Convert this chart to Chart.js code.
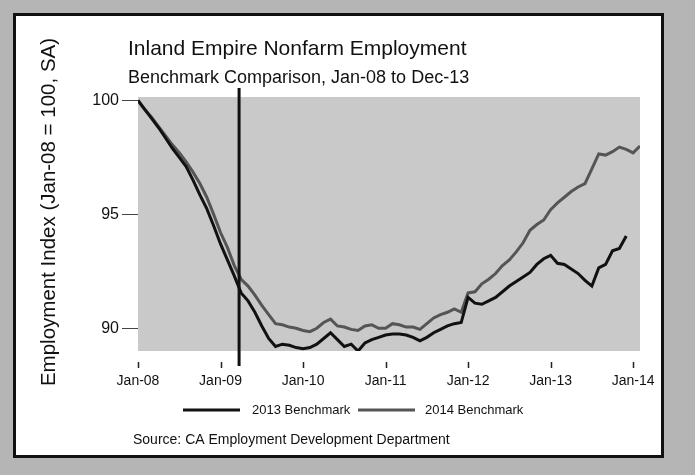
<!DOCTYPE html>
<html><head><meta charset="utf-8">
<script src="https://cdn.jsdelivr.net/npm/chart.js@4/dist/chart.umd.min.js"></script>
<style>html,body{margin:0;padding:0;background:#b8b8b8;}canvas{display:block}</style>
</head><body>
<canvas id="c" width="695" height="475"></canvas>
<script>
const titleText = 'Inland Empire Nonfarm Employment';
const subtitleText = 'Benchmark Comparison, Jan-08 to Dec-13';
const yAxisTitle = 'Employment Index (Jan-08 = 100, SA)';
const sourceText = 'Source: CA Employment Development Department';
const seriesNames = ['2013 Benchmark', '2014 Benchmark'];
const xTickLabels = ['Jan-08','Jan-09','Jan-10','Jan-11','Jan-12','Jan-13','Jan-14'];
const xTickMonths = [0,12,24,36,48,60,72];
const yTicks = [90,95,100];
const markerMonth = 14.7;

const bench2013 = [100.0,99.6,99.2,98.8,98.35,97.9,97.5,97.1,96.5,95.85,95.25,94.5,
  93.7,93.0,92.3,91.55,91.2,90.7,90.1,89.55,89.2,89.3,89.25,89.15,
  89.1,89.15,89.3,89.55,89.8,89.5,89.2,89.3,89.0,89.35,89.5,89.6,
  89.7,89.75,89.75,89.7,89.6,89.45,89.6,89.8,89.95,90.1,90.2,90.25,
  91.35,91.1,91.05,91.2,91.35,91.6,91.85,92.05,92.25,92.45,92.8,93.05,
  93.2,92.85,92.8,92.6,92.4,92.1,91.85,92.65,92.8,93.4,93.5,94.05];
const bench2014 = [100.0,99.6,99.25,98.85,98.45,98.05,97.7,97.3,96.85,96.35,95.75,95.0,
  94.2,93.55,92.75,92.15,91.85,91.45,91.0,90.6,90.2,90.15,90.05,90.0,
  89.9,89.85,90.0,90.25,90.4,90.1,90.05,89.95,89.9,90.1,90.15,90.0,
  90.0,90.2,90.15,90.05,90.05,89.95,90.2,90.45,90.6,90.7,90.85,90.7,
  91.55,91.6,91.95,92.15,92.4,92.75,93.0,93.35,93.75,94.3,94.55,94.75,
  95.2,95.5,95.75,96.0,96.2,96.35,97.0,97.65,97.6,97.75,97.95,97.85,
  97.7,98.0];

const FONT = "'Liberation Sans', Arial, Helvetica, sans-serif";
const toPts = arr => arr.map((v,i) => ({x:i, y:v}));

const decor = {
  id: 'decor',
  beforeDraw(chart) {
    const ctx = chart.ctx, a = chart.chartArea;
    ctx.save();
    ctx.fillStyle = '#b5b5b5';
    ctx.fillRect(0,0,chart.width,chart.height);
    ctx.fillStyle = '#ffffff';
    ctx.fillRect(14,14,649,443);
    ctx.strokeStyle = '#111';
    ctx.lineWidth = 3;
    ctx.strokeRect(14.5,14.5,648,442);
    ctx.fillStyle = '#c9c9c9';
    ctx.fillRect(a.left, a.top, a.right - a.left, a.bottom - a.top);
    ctx.restore();
  },
  afterDatasetsDraw(chart) {
    const ctx = chart.ctx, a = chart.chartArea, xs = chart.scales.x;
    const mx = xs.getPixelForValue(markerMonth);
    ctx.save();
    ctx.strokeStyle = '#111';
    ctx.lineWidth = 3;
    ctx.beginPath();
    ctx.moveTo(mx, a.top - 9);
    ctx.lineTo(mx, a.bottom + 15);
    ctx.stroke();
    ctx.restore();
  },
  afterDraw(chart) {
    const ctx = chart.ctx, a = chart.chartArea, xs = chart.scales.x;
    ctx.save();
    ctx.fillStyle = '#111';
    ctx.textBaseline = 'alphabetic';
    ctx.textAlign = 'left';
    ctx.font = '21px ' + FONT;
    ctx.fillText(titleText, 128, 55);
    ctx.font = '18px ' + FONT;
    ctx.fillText(subtitleText, 128, 83);
    // y-axis title
    ctx.save();
    ctx.translate(55, 212);
    ctx.rotate(-Math.PI/2);
    ctx.textAlign = 'center';
    ctx.font = '20.5px ' + FONT;
    ctx.fillText(yAxisTitle, 0, 0);
    ctx.restore();
    // x tick marks
    ctx.strokeStyle = '#222';
    ctx.lineWidth = 1.5;
    xTickMonths.forEach(m => {
      const px = Math.round(xs.getPixelForValue(m)) + 0.5;
      ctx.beginPath();
      ctx.moveTo(px, a.bottom + 11);
      ctx.lineTo(px, a.bottom + 17);
      ctx.stroke();
    });
    // legend
    ctx.font = '13px ' + FONT;
    ctx.textBaseline = 'middle';
    const ly = 410;
    ctx.lineWidth = 3;
    ctx.strokeStyle = '#111';
    ctx.beginPath(); ctx.moveTo(183, ly); ctx.lineTo(240, ly); ctx.stroke();
    ctx.fillText(seriesNames[0], 252, ly);
    ctx.strokeStyle = '#555';
    ctx.beginPath(); ctx.moveTo(358, ly); ctx.lineTo(415, ly); ctx.stroke();
    ctx.fillText(seriesNames[1], 425, ly);
    // source
    ctx.font = '14px ' + FONT;
    ctx.fillText(sourceText, 133, 440);
    ctx.restore();
  }
};

new Chart(document.getElementById('c'), {
  type: 'line',
  data: {
    datasets: [
      { label: seriesNames[0], data: toPts(bench2013), borderColor: '#111', borderWidth: 3, pointRadius: 0, tension: 0, order: 1 },
      { label: seriesNames[1], data: toPts(bench2014), borderColor: '#555', borderWidth: 3, pointRadius: 0, tension: 0, order: 2 }
    ]
  },
  options: {
    responsive: false,
    animation: false,
    devicePixelRatio: 1,
    layout: { padding: { left: 18, right: 55, top: 97, bottom: 84 } },
    plugins: { legend: { display: false }, title: { display: false }, tooltip: { enabled: false } },
    scales: {
      x: {
        type: 'linear', min: 0, max: 73,
        afterFit: s => { s.height = 40; },
        afterBuildTicks: s => { s.ticks = xTickMonths.map(v => ({ value: v })); },
        grid: { display: false, drawTicks: false },
        border: { display: false },
        ticks: {
          padding: 22, maxRotation: 0, autoSkip: false,
          color: '#111', font: { family: FONT, size: 14 },
          callback: v => xTickLabels[xTickMonths.indexOf(v)]
        }
      },
      y: {
        min: 89, max: 100.15,
        afterFit: s => { s.width = 120; },
        afterBuildTicks: s => { s.ticks = yTicks.map(v => ({ value: v })); },
        grid: { drawOnChartArea: false, drawTicks: true, tickLength: 16, color: '#444', lineWidth: 1 },
        border: { display: false },
        ticks: { padding: 3, color: '#111', font: { family: FONT, size: 16 } }
      }
    }
  },
  plugins: [decor]
});
</script>
</body></html>
